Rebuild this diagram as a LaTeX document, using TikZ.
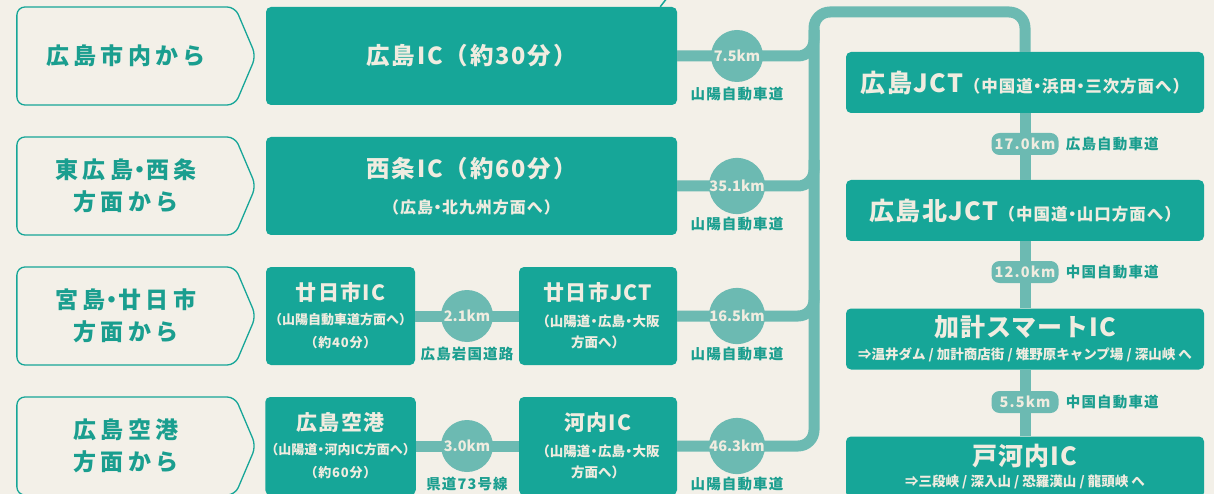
\documentclass[tikz,border=0pt]{standalone}
\usepackage{fontspec}
\setmainfont{Noto Sans CJK JP}
\usetikzlibrary{calc,positioning,shapes.symbols}

\definecolor{paper}{RGB}{243,240,232}
\definecolor{boxteal}{RGB}{22,166,152}
\definecolor{roadteal}{RGB}{108,186,178}
\definecolor{tealtxt}{RGB}{26,158,143}
\definecolor{cream}{RGB}{240,236,224}
\newcommand\setfs[2]{\fontsize{#1}{#2}\selectfont}
\newcommand\wide[1]{\addfontfeatures{LetterSpace=#1}}
\newcommand\nk{\kern-.22em・\kern-.22em}

\begin{document}
\begin{tikzpicture}[x=1pt,y=-1pt,
    box/.style={fill=boxteal, rounded corners=5pt, text=cream, align=center, inner sep=0pt},
    from/.style={shape=signal, signal to=east, signal pointer angle=134,
      draw=boxteal, line width=1.3pt, fill=paper, rounded corners=8pt,
      minimum width=239pt, minimum height=98pt, inner sep=0pt,
      text=tealtxt, align=center, font=\setfs{23}{32}\bfseries\wide{18}},
    road/.style={draw=roadteal, line width=11pt, rounded corners=16pt},
    km/.style={circle, fill=roadteal, minimum size=52pt, inner sep=0pt,
      text=cream, font=\setfs{14.5}{16}\bfseries},
    pill/.style={fill=roadteal, rounded corners=8pt, minimum width=67pt,
      minimum height=22pt, inner sep=0pt, text=cream, font=\setfs{14.5}{16}\bfseries\wide{8}},
    rd/.style={text=tealtxt, inner sep=0pt, font=\setfs{14.5}{16}\bfseries\wide{8}}]
  \fill[paper] (0,0) rectangle (1214,494);
  \useasboundingbox (0,0) rectangle (1214,494);
  \clip (0,0) rectangle (1214,494);

  % where the roads meet the trunk
  \def\tx{814}
  \foreach \i/\y in {1/56,2/186,3/316,4/446}
    \coordinate (j\i) at (\tx,\y);
  \coordinate (tl) at (\tx,12);
  \coordinate (tr) at (1025,12);

  % start points
  \foreach \i/\y/\txt in {1/56/広島市内から, 2/186/東広島\nk 西条\\方面から,
      3/316/宮島\nk 廿日市\\方面から, 4/446/広島空港\\方面から}
    \node[from] (f\i) at (126,\y) {\txt};

  % interchanges on the left
  \node[box, minimum width=411pt, minimum height=98pt] (hic) at (471.5,56)
    {\setfs{23.5}{26}\bfseries\wide{8}広島IC（約30分）};
  \node[box, minimum width=411pt, minimum height=98pt, font=\setfs{10}{36}] (sic) at (471.5,186)
    {\setfs{23.5}{26}\bfseries\wide{8}西条IC（約60分）\\
     \setfs{16}{20}\bfseries\wide{6}（広島\nk 北九州方面へ）};
  \node[box, minimum width=149pt, minimum height=98pt, font=\setfs{10}{23.5}] (hsic) at (340.5,316)
    {\setfs{21}{24}\bfseries\wide{6}廿日市IC\\
     \setfs{13}{16}\bfseries （山陽自動車道方面へ）\\
     \setfs{13}{16}\bfseries\wide{6}（約40分）};
  \node[box, minimum width=158pt, minimum height=98pt, font=\setfs{10}{21}] (hsj) at (598,316)
    {\setfs{21}{24}\bfseries\wide{6}廿日市JCT\\[5pt]
     \setfs{13.5}{16}\bfseries （山陽道\nk 広島\nk 大阪\\
     \setfs{13.5}{16}\bfseries 方面へ）};
  \node[box, minimum width=149pt, minimum height=98pt, font=\setfs{10}{23.5}] (apt) at (340.5,446)
    {\setfs{21}{24}\bfseries\wide{6}広島空港\\
     \setfs{13}{16}\bfseries （山陽道\nk 河内IC方面へ）\\
     \setfs{13}{16}\bfseries\wide{6}（約60分）};
  \node[box, minimum width=158pt, minimum height=98pt, font=\setfs{10}{21}] (kic) at (598,446)
    {\setfs{21}{24}\bfseries\wide{6}河内IC\\[5pt]
     \setfs{13.5}{16}\bfseries （山陽道\nk 広島\nk 大阪\\
     \setfs{13.5}{16}\bfseries 方面へ）};
  \draw[boxteal, line width=1.5pt] ($(hic.north east)+(-17,0)$) -- ++(7,-9);

  % interchanges on the right
  \node[box, minimum width=358pt, minimum height=61pt] (hjct) at (1025,82.5)
    {\setfs{25}{28}\bfseries\wide{6}広島JCT\setfs{16.5}{20}（中国道\nk 浜田\nk 三次方面へ）};
  \node[box, minimum width=358pt, minimum height=61pt] (hkj) at (1025,210.5)
    {\setfs{25}{28}\bfseries\wide{6}広島北JCT\setfs{16.5}{20}（中国道\nk 山口方面へ）};
  \node[box, minimum width=358pt, minimum height=61pt, font=\setfs{10}{23}] (kke) at (1025,339)
    {\setfs{25}{26}\bfseries\wide{4}加計スマートIC\\
     \setfs{13.5}{16}\bfseries ⇒温井ダム / 加計商店街 / 雉野原キャンプ場 / 深山峡 へ};
  \node[box, minimum width=358pt, minimum height=61pt, font=\setfs{10}{21}] (tgc) at (1025,467)
    {\setfs{25}{26}\bfseries\wide{4}戸河内IC\\
     \setfs{13.5}{16}\bfseries ⇒三段峡 / 深入山 / 恐羅漢山 / 龍頭峡 へ};

  % roads
  \foreach \b/\j in {hic/j1, sic/j2, hsj/j3}
    \draw[road] (\b.east) -- (\j) -- ($(\j)+(0,-26)$);
  \draw[road] (kic.east) -- (j4) -- (tl) -- (tr) -- (hjct.north);
  \draw[road] (hsic.east) -- (hsj.west);
  \draw[road] (apt.east) -- (kic.west);
  \draw[road] (hjct.south) -- (hkj.north);
  \draw[road] (hkj.south) -- (kke.north);
  \draw[road] (kke.south) -- (tgc.north);

  % distances
  \foreach \x/\y/\dist/\name/\n in {737/56/7.5km/山陽自動車道/a, 737/186/35.1km/山陽自動車道/b,
      737/316/16.5km/山陽自動車道/c, 737/446/46.3km/山陽自動車道/d,
      467/316/2.1km/広島岩国道路/e, 467/446/3.0km/県道73号線/f} {
    \node[km] (k\n) at (\x,\y) {\dist};
    \node[rd] (r\n) at (\x,\y+38) {\name};
  }
  \foreach \y/\dist/\name/\n in {144/17.0km/広島自動車道/g, 272/12.0km/中国自動車道/h,
      402/5.5km/中国自動車道/i} {
    \node[pill] (k\n) at (1025,\y) {\dist};
    \node[rd, right=7pt of k\n] (r\n) {\name};
  }
\end{tikzpicture}
\end{document}
